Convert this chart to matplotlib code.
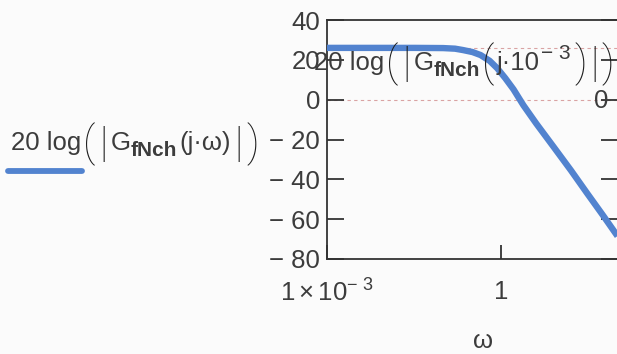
import matplotlib
matplotlib.use('Agg')
import matplotlib.pyplot as plt
from matplotlib.lines import Line2D

# magnitude response samples (rad/s -> dB)
omega = [1e-3, 1e-2, 0.032, 0.1, 0.16, 0.22, 0.32, 0.44, 0.63, 0.85,
         1.17, 1.62, 2.4, 4.0, 7.9, 15.8, 30.0, 56.0, 100.0]
gain_db = [26.0, 26.0, 26.0, 25.9, 25.6, 24.9, 23.9, 22.4, 19.5, 15.8,
           10.8, 5.2, -2.8, -12.0, -23.6, -35.5, -47.0, -58.0, -68.5]

marker_levels = [26.0, 0.0]
y_ticks = [40, 20, 0, -20, -40, -60, -80]
y_tick_labels = ['40', '20', '0', '\u2212 20', '\u2212 40', '\u2212 60', '\u2212 80']
x_ticks = [1e-3, 1.0]
x_tick_labels = [r'$1\times10^{\mathregular{-\ 3}}$', '1']

plt.rcParams['font.family'] = ['Liberation Sans', 'DejaVu Sans']
plt.rcParams['mathtext.fontset'] = 'custom'
plt.rcParams['mathtext.rm'] = 'Liberation Sans'
plt.rcParams['mathtext.it'] = 'Liberation Sans'

text_col = '#3c3c3c'
line_col = '#5283cf'
fs = 18.5
W, H = 617, 354

fig = plt.figure(figsize=(W / 100, H / 100), dpi=100)
fig.patch.set_facecolor('#fbfbfb')
renderer = fig.canvas.get_renderer()


def px(x, y):
    return x / W, 1 - y / H


def rich_text(x, y, pieces):
    """Lay out (text, size, dy, style, gap) pieces on a shared baseline."""
    for txt, size, dy, style, gap in pieces:
        kw = dict(color=text_col)
        if style == 'sub':
            kw.update(fontweight='bold')
        elif style == 'delim':
            kw.update(family=['Roboto', 'Liberation Sans'], fontweight='light',
                      color='#1e1e1e')
        t = fig.text(*px(x, y + dy), txt, fontsize=size,
                     ha='left', va='baseline', zorder=5, **kw)
        x += t.get_window_extent(renderer).width + gap


ax = fig.add_axes([327 / W, 1 - 259 / H, 290.5 / W, 239 / H])
ax.set_facecolor('none')
ax.set_xscale('log')
ax.set_xlim(1e-3, 1e2)
ax.set_ylim(-80, 40)

for lvl in marker_levels:
    ax.axhline(lvl, color='#d9a3a3', lw=0.8, dashes=(3, 3), zorder=1)

ax.plot(omega, gain_db, color=line_col, lw=4.6, solid_capstyle='butt', zorder=3)

for s in ax.spines.values():
    s.set_color('#333333')
    s.set_linewidth(1.3)

ax.set_yticks(y_ticks)
ax.set_yticklabels(y_tick_labels)
ax.set_xticks(x_ticks)
ax.set_xticklabels(x_tick_labels)
ax.xaxis.set_minor_locator(matplotlib.ticker.NullLocator())
ax.tick_params(axis='y', direction='in', length=12, width=1.3, color='#333333',
               labelsize=fs, labelcolor=text_col, pad=5, right=True)
ax.tick_params(axis='x', direction='in', length=10, width=1.3, color='#333333',
               labelsize=fs, labelcolor=text_col, pad=15)

fig.text(*px(483, 341), '\u03c9', fontsize=fs, color=text_col,
         ha='center', va='center')

big = 30
sub = 15

# trace legend
rich_text(11, 150, [
    ('20 log', fs, 0, 'n', 2),
    ('(', big, 6, 'delim', 4),
    ('|', big, 6, 'delim', 3),
    ('G', fs, 0, 'n', 0),
    ('fNch', sub, 6, 'sub', 2),
    ('(j\u00b7\u03c9)', fs, 0, 'n', 4),
    ('|', big, 6, 'delim', 3),
    (')', big, 6, 'delim', 0),
])
fig.add_artist(Line2D([8 / W, 82 / W], [1 - 171 / H, 1 - 171 / H],
                      color=line_col, lw=4.2, solid_capstyle='round'))

# marker labels
rich_text(314, 70, [
    ('20 log', fs, 0, 'n', 2),
    ('(', big, 6, 'delim', 4),
    ('|', big, 6, 'delim', 3),
    ('G', fs, 0, 'n', 0),
    ('fNch', sub, 6, 'sub', 2),
    ('(', big, 6, 'delim', 2),
    ('j\u00b710', fs, 0, 'n', 1),
    ('\u2212 3', sub, -11, 'n', 4),
    (')', big, 6, 'delim', 3),
    ('|', big, 6, 'delim', 3),
    (')', big, 6, 'delim', 0),
])
fig.text(*px(601, 101), '0', fontsize=fs, color=text_col,
         ha='center', va='center', zorder=5)

fig.savefig('out.png', dpi=100, facecolor=fig.get_facecolor())
